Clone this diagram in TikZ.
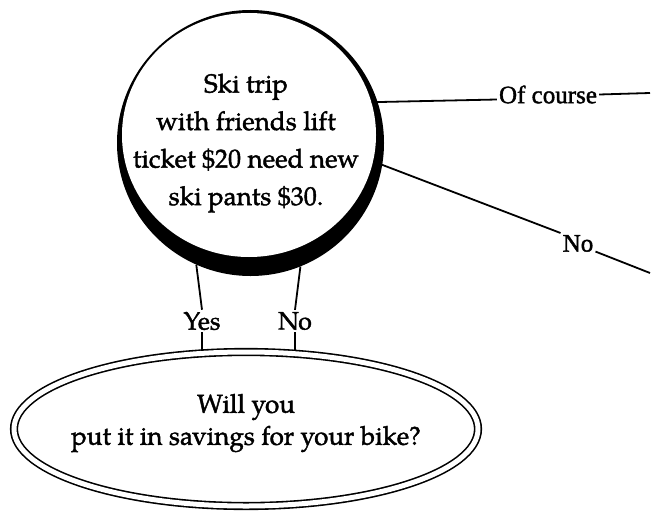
\documentclass[tikz,border=0pt]{standalone}
\usepackage{fontspec}
\setmainfont{Liberation Serif}[UprightFeatures={FakeBold=1.6}]
\newfontfamily\palfont{TeX Gyre Pagella}[UprightFeatures={FakeBold=1.6}]
\usetikzlibrary{shapes.geometric}
\begin{document}
\begin{tikzpicture}[x=1pt,y=-1pt,
  conn/.style={line width=1.8pt},
  pal/.style={font=\palfont\fontsize{26}{37.5}\selectfont, align=center, inner sep=0},
  lbl/.style={font=\palfont\fontsize{25}{30}\selectfont, inner sep=2pt},
  tim/.style={font=\fontsize{25}{30}\selectfont, inner sep=2pt}]
\useasboundingbox (0,0) rectangle (658,511);
% thick shadowed ring
\node[ellipse, fill=black, minimum width=267pt, minimum height=266pt, inner sep=0] (ring) at (250.5,143) {};
\node[ellipse, fill=white, minimum width=254pt, minimum height=244pt, inner sep=0] (ski) at (249,135) {};
\node[pal] (skitxt) at (246,143)
  {Ski trip\\with friends lift\\ticket \$20 need new\\ski pants \$30.};
% savings ellipse
\node[ellipse, draw, double, double distance=5pt, line width=1.6pt, minimum width=464pt, minimum height=154pt,
  inner sep=0] (sav) at (246,429) {};
\node[pal, font=\palfont\fontsize{26}{32}\selectfont] (savtxt) at (246,423)
  {Will you\\put it in savings for your bike?};
% labels
\node[tim] (ofc) at (548,94.5) {Of course};
\node[tim] (no1) at (578,243.5) {No};
\node[lbl] (yes) at (202,321) {Yes};
\node[lbl] (no2) at (295,321) {No};
\coordinate (ofcend) at (650,93);
\coordinate (no1end) at (650,273);
% connectors
\draw[conn] (ski.15) -- ([yshift=-5pt]ofc.west);
\draw[conn] (ofc.east) -- (ofcend);
\draw[conn] (ski.-12) -- (no1.north west);
\draw[conn] (no1.base east) -- (no1end);
\draw[conn] (ring.246) -- (yes.north);
\draw[conn] (yes.south) -- (yes.south |- sav.north);
\draw[conn] (ring.292) -- (no2.north);
\draw[conn] (no2.south) -- (no2.south |- sav.north);
\end{tikzpicture}
\end{document}
